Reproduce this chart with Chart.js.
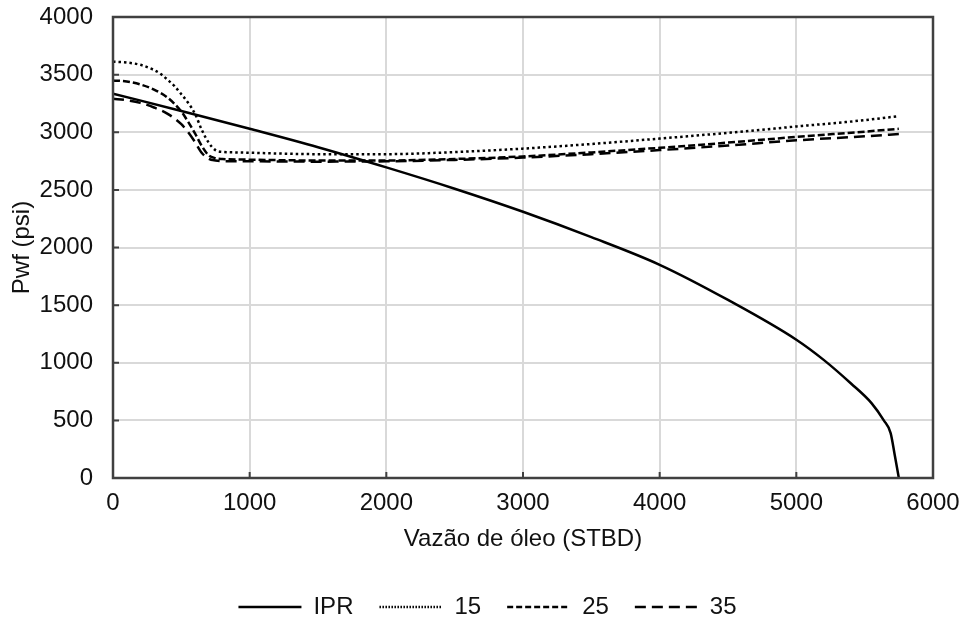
<!DOCTYPE html>
<html>
<head>
<meta charset="utf-8">
<script src="https://cdn.jsdelivr.net/npm/chart.js@4.4.1/dist/chart.umd.min.js"></script>
<style>
    html, body { margin: 0; padding: 0; background: #fff; }
    #wrap { width: 962px; height: 621px; }
</style>
</head>
<body>
<div id="wrap"><canvas id="ipr_chart"></canvas></div>
<script>
// IPR curve
var ipr_q = [0, 500, 1000, 1500, 2000, 2500, 3000, 3500, 4000, 4500, 5000, 5200, 5400, 5550, 5640, 5690, 5720, 5750];
var ipr_p = [3335, 3185, 3030, 2870, 2695, 2510, 2310, 2090, 1850, 1545, 1200, 1025, 820, 650, 500, 390, 200, 0];

// outflow curves
var q15 = [0, 100, 200, 300, 350, 400, 450, 500, 550, 600, 650, 700, 750, 800, 900, 1000, 1500, 2000, 2500, 3000, 3500, 4000, 4500, 5000, 5500, 5750];
var p15 = [3612, 3605, 3585, 3540, 3505, 3455, 3400, 3330, 3255, 3160, 3020, 2910, 2845, 2830, 2825, 2822, 2810, 2810, 2828, 2858, 2898, 2945, 2995, 3050, 3105, 3140];

var q25 = [0, 100, 200, 300, 400, 500, 550, 600, 650, 700, 750, 800, 1000, 1500, 2000, 2500, 3000, 3500, 4000, 4500, 5000, 5500, 5750];
var p25 = [3450, 3440, 3415, 3370, 3300, 3180, 3090, 2990, 2880, 2800, 2775, 2768, 2762, 2755, 2755, 2768, 2790, 2825, 2865, 2910, 2960, 3005, 3030];

var q35 = [0, 100, 200, 300, 400, 500, 550, 600, 650, 700, 750, 800, 1000, 1500, 2000, 2500, 3000, 3500, 4000, 4500, 5000, 5500, 5750];
var p35 = [3290, 3278, 3255, 3215, 3160, 3070, 3000, 2915, 2820, 2770, 2755, 2750, 2748, 2745, 2748, 2760, 2780, 2810, 2845, 2885, 2930, 2965, 2985];

var series_names = ["IPR", "15", "25", "35"];

var FONT = "'Liberation Sans', Arial, sans-serif";
var FONT_SIZE = 24;
var TEXT = "#111";

function points(qs, ps) {
    return qs.map(function (q, i) { return { x: q, y: ps[i] }; });
}

function make_dataset(label, qs, ps, dash, width) {
    return {
        label: label,
        data: points(qs, ps),
        borderColor: "#000",
        backgroundColor: "#000",
        borderWidth: width,
        borderDash: dash,
        pointRadius: 0,
        fill: false,
        cubicInterpolationMode: "monotone"
    };
}

// legend samples use a tighter dash than the plot lines
var legend_dash = [[], [1.5, 1.5], [6, 3], [11, 6]];

// frame around the plot + small inside tick marks
var frame_plugin = {
    id: "frame",
    afterLayout: function (chart) {
        // nudge the legend row to where the original has it
        chart.legend.top += 8;
        chart.legend.bottom += 8;
        chart.legend.left += 21;
        chart.legend.right += 21;
    },
    afterDraw: function (chart) {
        var ctx = chart.ctx;
        var a = chart.chartArea;
        var xs = chart.scales.x;
        var ys = chart.scales.y;
        ctx.save();
        ctx.strokeStyle = "#404040";
        ctx.lineWidth = 2;
        ctx.setLineDash([]);
        ctx.beginPath();
        xs.ticks.forEach(function (t) {
            var px = xs.getPixelForValue(t.value);
            ctx.moveTo(px, a.bottom);
            ctx.lineTo(px, a.bottom - 6);
        });
        ys.ticks.forEach(function (t) {
            var py = ys.getPixelForValue(t.value);
            ctx.moveTo(a.left, py);
            ctx.lineTo(a.left + 6, py);
        });
        ctx.stroke();
        ctx.lineWidth = 2.5;
        ctx.strokeRect(a.left, a.top, a.right - a.left, a.bottom - a.top);
        ctx.restore();
    }
};

function plain(value) {
    return String(value);
}

// ticks are drawn transparent so they only space the labels from the axis
function grid_opts(gap) {
    return { color: "#d9d9d9", lineWidth: 2, drawTicks: true, tickLength: gap, tickColor: "rgba(0,0,0,0)" };
}

function draw_chart() {
    var ctx = document.getElementById("ipr_chart");
    return new Chart(ctx, {
        type: "line",
        data: {
            datasets: [
                make_dataset(series_names[0], ipr_q, ipr_p, [], 2.5),
                make_dataset(series_names[1], q15, p15, [2.5, 3], 2.5),
                make_dataset(series_names[2], q25, p25, [7, 3], 2.5),
                make_dataset(series_names[3], q35, p35, [11, 6], 2.5)
            ]
        },
        options: {
            responsive: true,
            maintainAspectRatio: false,
            animation: false,
            layout: { padding: { top: 17, right: 29, left: 0, bottom: 0 } },
            scales: {
                x: {
                    type: "linear",
                    min: 0,
                    max: 6000,
                    grid: grid_opts(11),
                    border: { display: false },
                    ticks: { stepSize: 1000, padding: 0, color: TEXT, font: { family: FONT, size: FONT_SIZE }, callback: plain },
                    title: {
                        display: true,
                        text: "Vazão de óleo (STBD)",
                        color: TEXT,
                        font: { family: FONT, size: FONT_SIZE },
                        padding: { top: 0, bottom: 7 }
                    },
                    afterFit: function (scale) { scale.height = 83; }
                },
                y: {
                    min: 0,
                    max: 4000,
                    grid: grid_opts(20),
                    border: { display: false },
                    ticks: { stepSize: 500, padding: 0, color: TEXT, font: { family: FONT, size: FONT_SIZE }, callback: plain },
                    title: {
                        display: true,
                        text: "Pwf (psi)",
                        color: TEXT,
                        font: { family: FONT, size: FONT_SIZE },
                        padding: { top: 8, bottom: 0 }
                    },
                    afterFit: function (scale) { scale.width = 113; }
                }
            },
            plugins: {
                tooltip: { enabled: false },
                legend: {
                    position: "bottom",
                    labels: {
                        usePointStyle: true,
                        pointStyle: "line",
                        pointStyleWidth: 63,
                        boxWidth: 63,
                        padding: 26,
                        color: TEXT,
                        font: { family: FONT, size: FONT_SIZE },
                        generateLabels: function (chart) {
                            var items = Chart.defaults.plugins.legend.labels.generateLabels(chart);
                            items.forEach(function (item, i) {
                                item.lineDash = legend_dash[i];
                                item.lineWidth = 2.5;
                            });
                            return items;
                        }
                    }
                }
            }
        },
        plugins: [frame_plugin]
    });
}

draw_chart();
</script>
</body>
</html>
